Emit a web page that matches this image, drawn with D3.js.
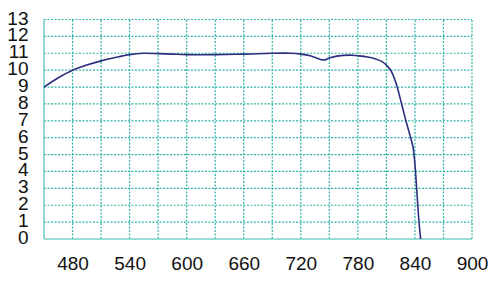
<!DOCTYPE html>
<meta charset="utf-8">
<title>Curve</title>
<style>
  body { margin: 0; background: #fff; }
  text { font-family: "Liberation Sans", Arial, sans-serif; }
</style>
<div id="viz"></div>
<script src="https://cdnjs.cloudflare.com/ajax/libs/d3/7.8.5/d3.min.js"></script>
<script>

var width = 500;
var height = 285;

// wavelength (x) and value (y)
var wavelength = [450, 465, 480, 495, 510, 525, 540, 555, 570, 585, 600, 630, 660, 690, 710,
  720, 730, 744, 750, 758, 772, 780, 790, 798, 805, 810, 815, 820, 826, 830.5, 835.5, 838,
  839.4, 840.6, 841.8, 843, 844.3, 846];
var value = [9.0, 9.55, 10.0, 10.3, 10.55, 10.75, 10.92, 11.0, 10.98, 10.95, 10.92, 10.92, 10.95, 11.0, 11.0,
  10.95, 10.85, 10.6, 10.72, 10.83, 10.89, 10.85, 10.78, 10.68, 10.52, 10.3, 9.95, 9.25, 8.0, 7.0, 6.0, 5.45,
  4.8, 4.0, 3.0, 2.0, 1.0, 0];
var xLabels = [480, 540, 600, 660, 720, 780, 840, 900];
var xGrid = [480, 510, 540, 570, 600, 630, 660, 690, 720, 750, 780, 810, 840, 870];
var yLabels = [0, 1, 2, 3, 4, 5, 6, 7, 8, 9, 10, 11, 12, 13];

var x = d3.scaleLinear().domain([450, 900]).range([44, 472]);
var y = d3.scaleLinear().domain([0, 13]).range([239, 19.5]);

var gridColor = "#2fb3a7";

var svg = d3.select("#viz")
  .append("svg")
  .attr("width", width)
  .attr("height", height);

// dotted grid
svg.append("g").selectAll("line.h")
  .data(yLabels.filter(function(d) { return d > 0 && d < 13; }))
  .enter().append("line")
  .attr("x1", x(450)).attr("x2", x(900))
  .attr("y1", function(d) { return y(d); })
  .attr("y2", function(d) { return y(d); })
  .attr("stroke", gridColor)
  .attr("stroke-width", 1.2)
  .attr("stroke-dasharray", "2,1.5");

svg.append("g").selectAll("line.v")
  .data(xGrid)
  .enter().append("line")
  .attr("y1", y(0)).attr("y2", y(13))
  .attr("x1", function(d) { return x(d); })
  .attr("x2", function(d) { return x(d); })
  .attr("stroke", gridColor)
  .attr("stroke-width", 1.2)
  .attr("stroke-dasharray", "2,1.5");

// frame: top and right dotted, left and bottom solid
svg.append("line")
  .attr("x1", x(450)).attr("x2", x(900)).attr("y1", y(13)).attr("y2", y(13))
  .attr("stroke", gridColor).attr("stroke-width", 1.2).attr("stroke-dasharray", "2,1.5");
svg.append("line")
  .attr("x1", x(900)).attr("x2", x(900)).attr("y1", y(0)).attr("y2", y(13))
  .attr("stroke", gridColor).attr("stroke-width", 1.2).attr("stroke-dasharray", "2,1.5");
svg.append("line")
  .attr("x1", x(450)).attr("x2", x(450)).attr("y1", y(0)).attr("y2", y(13))
  .attr("stroke", "#6cc9c0").attr("stroke-width", 1.5);
svg.append("line")
  .attr("x1", x(450)).attr("x2", x(900)).attr("y1", y(0)).attr("y2", y(0))
  .attr("stroke", "#7dd0c8").attr("stroke-width", 1.5);

// axes labels
var xAxis = svg.append("g")
  .attr("transform", "translate(0," + 250 + ")")
  .call(d3.axisBottom(x).tickValues(xLabels).tickSize(0).tickPadding(0).tickFormat(d3.format("d")));
xAxis.select(".domain").remove();
xAxis.selectAll("text")
  .attr("y", 0).attr("dy", "19.5")
  .attr("font-size", 19).attr("fill", "#111")
  .style("font-family", "'Liberation Sans', Arial, sans-serif");

var yAxis = svg.append("g")
  .attr("transform", "translate(28.5,0)")
  .call(d3.axisLeft(y).tickValues(yLabels).tickSize(0).tickPadding(0).tickFormat(d3.format("d")));
yAxis.select(".domain").remove();
yAxis.selectAll("text")
  .attr("x", 0).attr("dy", "4.5")
  .attr("font-size", 19).attr("fill", "#111")
  .style("font-family", "'Liberation Sans', Arial, sans-serif");

// the curve
var pts = wavelength.map(function(w, i) { return [w, value[i]]; });
var line = d3.line()
  .x(function(d) { return x(d[0]); })
  .y(function(d) { return y(d[1]); })
  .curve(d3.curveCatmullRom.alpha(0.5));

svg.append("path")
  .datum(pts)
  .attr("d", line)
  .attr("fill", "none")
  .attr("stroke", "#2d2e80")
  .attr("stroke-width", 1.6);

</script>
